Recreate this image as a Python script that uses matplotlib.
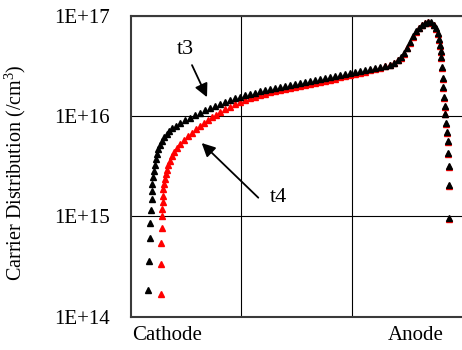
import matplotlib
matplotlib.use("Agg")
import matplotlib.pyplot as plt

plt.rcParams["font.family"] = ["Liberation Serif", "DejaVu Serif"]
plt.rcParams["mathtext.fontset"] = "custom"
plt.rcParams["mathtext.rm"] = "Liberation Serif"
plt.rcParams["mathtext.default"] = "regular"

# position across the device (grid units, cathode at left, anode at right)
t3_pos = [0.154, 0.163, 0.168, 0.172, 0.181, 0.186, 0.190, 0.195, 0.199, 0.208,
          0.218, 0.227, 0.236, 0.249, 0.263, 0.281, 0.299, 0.322, 0.344, 0.372,
          0.408, 0.444, 0.489, 0.535, 0.580, 0.625, 0.671, 0.716, 0.761, 0.807,
          0.852, 0.897, 0.943, 0.988, 1.033, 1.079, 1.124, 1.169, 1.215, 1.260,
          1.305, 1.350, 1.396, 1.441, 1.486, 1.532, 1.577, 1.622, 1.668, 1.713,
          1.758, 1.804, 1.849, 1.894, 1.940, 1.985, 2.030, 2.076, 2.121, 2.166,
          2.212, 2.257, 2.302, 2.348, 2.384, 2.420, 2.447, 2.474, 2.501, 2.529,
          2.556, 2.583, 2.610, 2.638, 2.665, 2.692, 2.719, 2.742, 2.760, 2.778,
          2.792, 2.801, 2.810, 2.814, 2.823, 2.828, 2.832, 2.837, 2.846, 2.850,
          2.855, 2.864, 2.869, 2.873, 2.878, 2.882, 2.882]
# carrier density at t3 (/cm^3)
t3_density = [1.86e14, 3.63e14, 6.17e14, 8.70e14, 1.17e15, 1.48e15, 1.78e15, 2.09e15, 2.45e15, 2.82e15,
              3.24e15, 3.72e15, 4.17e15, 4.68e15, 5.19e15, 5.69e15, 6.17e15, 6.68e15, 7.16e15, 7.59e15,
              8.04e15, 8.51e15, 9.12e15, 9.66e15, 1.02e16, 1.08e16, 1.15e16, 1.20e16, 1.26e16, 1.32e16,
              1.38e16, 1.45e16, 1.51e16, 1.57e16, 1.62e16, 1.68e16, 1.72e16, 1.78e16, 1.82e16, 1.86e16,
              1.91e16, 1.95e16, 2.00e16, 2.04e16, 2.09e16, 2.14e16, 2.19e16, 2.24e16, 2.29e16, 2.34e16,
              2.43e16, 2.48e16, 2.54e16, 2.60e16, 2.66e16, 2.72e16, 2.79e16, 2.85e16, 2.92e16, 2.99e16,
              3.05e16, 3.13e16, 3.20e16, 3.27e16, 3.43e16, 3.63e16, 3.90e16, 4.27e16, 4.84e16, 5.50e16,
              6.31e16, 7.08e16, 7.67e16, 8.22e16, 8.61e16, 8.81e16, 8.71e16, 8.22e16, 7.59e16, 6.76e16,
              5.89e16, 5.13e16, 4.47e16, 3.89e16, 3.09e16, 2.40e16, 1.95e16, 1.55e16, 1.26e16, 1.06e16,
              8.51e15, 6.92e15, 5.62e15, 4.27e15, 3.16e15, 2.04e15, 9.66e14]

t4_pos = [0.272, 0.276, 0.276, 0.281, 0.281, 0.285, 0.290, 0.290, 0.294, 0.299,
          0.308, 0.317, 0.326, 0.335, 0.353, 0.372, 0.390, 0.417, 0.444, 0.480,
          0.517, 0.553, 0.589, 0.625, 0.662, 0.698, 0.734, 0.770, 0.807, 0.852,
          0.897, 0.943, 0.988, 1.033, 1.079, 1.124, 1.169, 1.215, 1.260, 1.305,
          1.350, 1.396, 1.441, 1.486, 1.532, 1.577, 1.622, 1.668, 1.713, 1.758,
          1.804, 1.849, 1.894, 1.940, 1.985, 2.030, 2.076, 2.121, 2.166, 2.212,
          2.257, 2.302, 2.348, 2.384, 2.420, 2.447, 2.474, 2.501, 2.529, 2.556,
          2.583, 2.610, 2.638, 2.665, 2.692, 2.719, 2.742, 2.760, 2.778, 2.792,
          2.801, 2.810, 2.814, 2.823, 2.828, 2.832, 2.837, 2.846, 2.850, 2.855,
          2.864, 2.869, 2.873, 2.878, 2.882, 2.882]
# carrier density at t4 (/cm^3)
t4_density = [1.70e14, 3.39e14, 5.50e14, 7.76e14, 1.00e15, 1.20e15, 1.41e15, 1.62e15, 1.86e15, 2.09e15,
              2.34e15, 2.63e15, 2.92e15, 3.24e15, 3.59e15, 3.98e15, 4.37e15, 4.79e15, 5.25e15, 5.75e15,
              6.31e15, 6.84e15, 7.41e15, 7.94e15, 8.51e15, 9.12e15, 9.77e15, 1.04e16, 1.10e16, 1.17e16,
              1.24e16, 1.32e16, 1.38e16, 1.45e16, 1.51e16, 1.57e16, 1.62e16, 1.68e16, 1.74e16, 1.78e16,
              1.84e16, 1.88e16, 1.93e16, 1.97e16, 2.02e16, 2.04e16, 2.09e16, 2.14e16, 2.19e16, 2.26e16,
              2.32e16, 2.37e16, 2.45e16, 2.51e16, 2.57e16, 2.63e16, 2.72e16, 2.79e16, 2.88e16, 2.95e16,
              3.05e16, 3.16e16, 3.27e16, 3.43e16, 3.63e16, 3.85e16, 4.22e16, 4.79e16, 5.44e16, 6.24e16,
              7.00e16, 7.59e16, 8.13e16, 8.51e16, 8.71e16, 8.61e16, 8.13e16, 7.50e16, 6.68e16, 5.82e16,
              5.07e16, 4.42e16, 3.85e16, 3.05e16, 2.37e16, 1.93e16, 1.53e16, 1.25e16, 1.05e16, 8.41e15,
              6.84e15, 5.56e15, 4.22e15, 3.13e15, 2.02e15, 9.55e14]

region_labels = ["Cathode", "Anode"]
region_pos = [0.326, 2.578]
decade_labels = ["1E+14", "1E+15", "1E+16", "1E+17"]
decades = [1e14, 1e15, 1e16, 1e17]

fig = plt.figure(figsize=(4.62, 3.5), dpi=100)
ax = fig.add_axes([0.2835, 0.0951, 0.7165, 0.859])

ax.plot(t4_pos, t4_density, linestyle="none", marker="^", ms=4.3,
        color="#ff0000", mec="#ff0000", zorder=3)
ax.plot(t3_pos, t3_density, linestyle="none", marker="^", ms=4.3,
        color="black", mec="black", zorder=4)

ax.set_yscale("log")
ax.set_ylim(1e14, 1e17)
ax.set_xlim(0, 3)
ax.set_yticks(decades, labels=decade_labels)
ax.yaxis.set_minor_locator(matplotlib.ticker.NullLocator())
ax.set_xticks([1, 2], labels=["", ""])
ax.set_xticks(region_pos, labels=region_labels, minor=True)
ax.grid(True, which="major", color="black", linewidth=0.8)
ax.tick_params(which="both", length=0, labelsize=15)
ax.tick_params(axis="y", pad=15)
ax.tick_params(axis="x", which="minor", pad=7)

for side in ["left", "bottom", "top"]:
    ax.spines[side].set_color("#3a3a3a")
    ax.spines[side].set_linewidth(1.5)
ax.spines["right"].set_visible(False)

ax.set_ylabel("Carrier Distribution (/cm$^{3}$)", fontsize=14.5)
ax.yaxis.set_label_coords(-0.311, 0.478)

arrow = dict(arrowstyle="-|>", color="black", lw=1.3, mutation_scale=20,
             shrinkA=0, shrinkB=0)
ax.annotate("", xy=(0.689, 1.55e16), xytext=(0.553, 3.24e16), arrowprops=arrow)
ax.annotate("", xy=(0.641, 5.41e15), xytext=(1.154, 1.54e15), arrowprops=arrow)
ax.text(0.495, 4.64e16, "t3", fontsize=16, ha="center", va="center")
ax.text(1.335, 1.54e15, "t4", fontsize=16, ha="center", va="center")

fig.savefig("out.png", dpi=100)
